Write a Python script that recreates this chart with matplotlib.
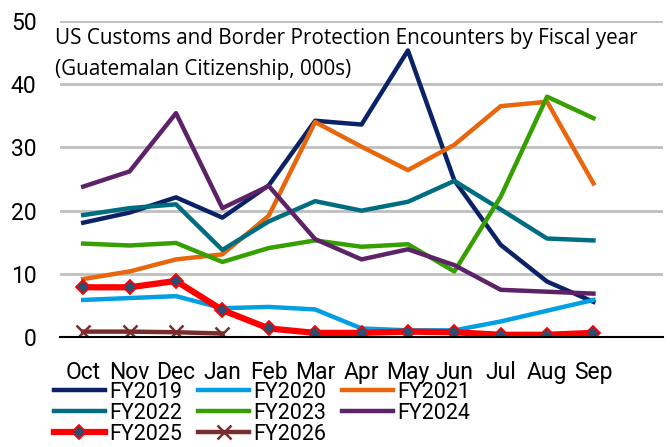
import matplotlib
matplotlib.use("Agg")
import matplotlib.pyplot as plt

months = ["Oct", "Nov", "Dec", "Jan", "Feb", "Mar", "Apr", "May", "Jun", "Jul", "Aug", "Sep"]

fy2019 = [18.1, 19.7, 22.1, 18.9, 24.0, 34.2, 33.6, 45.3, 24.8, 14.6, 8.8, 5.6]
fy2020 = [5.9, 6.2, 6.5, 4.6, 4.8, 4.4, 1.4, 1.1, 1.1, 2.5, 4.2, 5.9]
fy2021 = [9.2, 10.4, 12.3, 13.1, 19.2, 34.0, 30.1, 26.4, 30.4, 36.5, 37.2, 24.3]
fy2022 = [19.3, 20.4, 21.0, 13.8, 18.3, 21.5, 20.0, 21.4, 24.7, 20.2, 15.6, 15.3]
fy2023 = [14.8, 14.5, 14.9, 11.9, 14.1, 15.3, 14.3, 14.7, 10.4, 22.2, 38.0, 34.6]
fy2024 = [23.8, 26.2, 35.4, 20.4, 23.9, 15.5, 12.3, 13.9, 11.4, 7.5, 7.2, 6.9]
fy2025 = [7.9, 7.9, 8.9, 4.3, 1.4, 0.7, 0.7, 0.9, 0.8, 0.4, 0.4, 0.7]
fy2026 = [0.9, 0.9, 0.8, 0.6]

tick_font = ["Roboto", "DejaVu Sans"]
plt.rcParams["font.family"] = ["Open Sans", "DejaVu Sans"]

fig = plt.figure(figsize=(6.7, 4.47), dpi=100)
ax = fig.add_axes([0.0896, 0.2454, 0.9, 0.7083])

x = list(range(len(months)))
h19, = ax.plot(x, fy2019, color="#0b2266", lw=3.2, label="FY2019")
h20, = ax.plot(x, fy2020, color="#00a0e3", lw=3.2, label="FY2020")
h21, = ax.plot(x, fy2021, color="#e8670c", lw=3.2, label="FY2021")
h22, = ax.plot(x, fy2022, color="#006d80", lw=3.2, label="FY2022")
h23, = ax.plot(x, fy2023, color="#35a000", lw=3.2, label="FY2023")
h24, = ax.plot(x, fy2024, color="#5c2367", lw=3.2, label="FY2024")
h25, = ax.plot(x, fy2025, color="#ff0000", lw=4.5, marker="D", ms=7,
               mfc="#2f4c72", mec="#ff0000", mew=1.3, label="FY2025")
h26, = ax.plot(x[:len(fy2026)], fy2026, color="#7a2d2d", lw=3.2, marker="x", ms=10,
               mew=1.8, label="FY2026")

ax.set_xlim(-0.5, 12.5)
ax.set_ylim(0, 50)
ax.set_yticks([0, 10, 20, 30, 40, 50])
ax.set_xticks(x)
ax.set_xticklabels(months)
ax.tick_params(axis="y", length=0, pad=17, labelsize=16.5)
ax.tick_params(axis="x", length=0, pad=17, labelsize=16.5)
for lab in ax.get_yticklabels() + ax.get_xticklabels():
    lab.set_fontfamily(tick_font)
ax.grid(axis="y", color="#bfbfbf", lw=2)
ax.set_axisbelow(True)
for s in ["top", "right", "left"]:
    ax.spines[s].set_visible(False)
ax.spines["bottom"].set_color("black")
ax.spines["bottom"].set_linewidth(1.5)
ax.spines["bottom"].set_zorder(5)

fig.text(0.082, 1 - 28 / 447,
         "US Customs and Border Protection Encounters by Fiscal year\n(Guatemalan Citizenship, 000s)",
         fontsize=14.9, va="top", ha="left", linespacing=1.6)

# row-wise legend: columns are filled first, so reorder
order = [h19, h22, h25, h20, h23, h26, h21, h24]
fig.legend(handles=order, loc="upper left", bbox_to_anchor=(0.064, 1 - 371 / 447), ncol=3,
           frameon=False, handlelength=2.4, handletextpad=0.2,
           columnspacing=0.7, labelspacing=0.0, borderpad=0,
           prop={"family": tick_font, "size": 15.5})

fig.savefig("out.png", dpi=100)
